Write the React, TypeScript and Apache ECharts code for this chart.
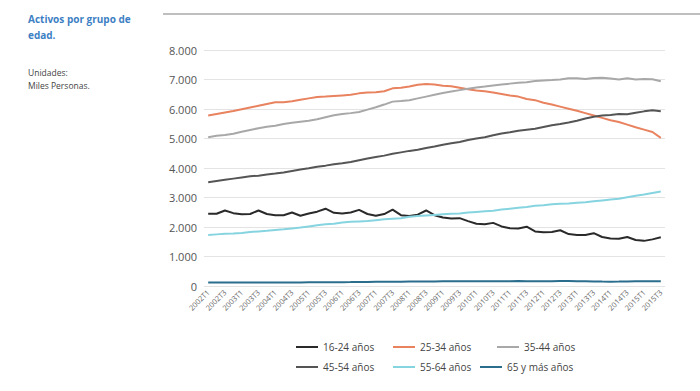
import React, { useEffect, useRef } from "react";
import * as echarts from "echarts";

const categories = [
  "2002T1","2002T2","2002T3","2002T4","2003T1","2003T2","2003T3","2003T4",
  "2004T1","2004T2","2004T3","2004T4","2005T1","2005T2","2005T3","2005T4",
  "2006T1","2006T2","2006T3","2006T4","2007T1","2007T2","2007T3","2007T4",
  "2008T1","2008T2","2008T3","2008T4","2009T1","2009T2","2009T3","2009T4",
  "2010T1","2010T2","2010T3","2010T4","2011T1","2011T2","2011T3","2011T4",
  "2012T1","2012T2","2012T3","2012T4","2013T1","2013T2","2013T3","2013T4",
  "2014T1","2014T2","2014T3","2014T4","2015T1","2015T2","2015T3",
];

const yTicks = [0, 1000, 2000, 3000, 4000, 5000, 6000, 7000, 8000];

const s16_24 = [
  2450, 2450, 2560, 2470, 2430, 2440, 2560, 2440, 2400, 2400, 2490, 2380, 2460, 2520,
  2620, 2480, 2460, 2490, 2580, 2440, 2380, 2440, 2590, 2400, 2370, 2420, 2560, 2400,
  2320, 2290, 2300, 2200, 2110, 2090, 2140, 2020, 1960, 1950, 2010, 1850, 1820, 1830,
  1890, 1760, 1730, 1730, 1790, 1660, 1610, 1600, 1660, 1560, 1530, 1580, 1650,
];
const s25_34 = [
  5780, 5830, 5880, 5930, 5990, 6050, 6110, 6170, 6230, 6230, 6260, 6310, 6360, 6410,
  6420, 6440, 6460, 6480, 6530, 6560, 6570, 6600, 6700, 6720, 6760, 6820, 6850, 6830,
  6790, 6770, 6720, 6670, 6630, 6600, 6560, 6510, 6460, 6420, 6340, 6300, 6210, 6150,
  6080, 6010, 5940, 5860, 5780, 5700, 5620, 5560, 5470, 5380, 5300, 5220, 5020,
];
const s35_44 = [
  5040, 5090, 5120, 5160, 5230, 5290, 5350, 5400, 5430, 5490, 5530, 5570, 5600, 5650,
  5720, 5790, 5830, 5860, 5900, 5980, 6060, 6150, 6250, 6270, 6300, 6360, 6420, 6480,
  6540, 6590, 6640, 6690, 6730, 6760, 6800, 6830, 6860, 6890, 6910, 6950, 6970, 6980,
  7000, 7040, 7040, 7020, 7050, 7060, 7030, 7000, 7040, 7000, 7020, 7010, 6940,
];
const s45_54 = [
  3520, 3560, 3600, 3640, 3680, 3720, 3740, 3780, 3810, 3850, 3900, 3950, 3990, 4040,
  4080, 4130, 4160, 4200, 4260, 4320, 4370, 4420, 4480, 4530, 4580, 4620, 4680, 4730,
  4790, 4840, 4880, 4950, 5000, 5040, 5110, 5170, 5210, 5260, 5300, 5330, 5390, 5450,
  5490, 5540, 5600, 5680, 5740, 5780, 5800, 5830, 5820, 5870, 5920, 5960, 5920,
];
const s55_64 = [
  1730, 1750, 1770, 1780, 1800, 1830, 1850, 1870, 1900, 1920, 1950, 1980, 2020, 2060,
  2090, 2110, 2150, 2180, 2190, 2200, 2230, 2260, 2280, 2300, 2350, 2370, 2390, 2410,
  2430, 2450, 2460, 2490, 2510, 2530, 2550, 2590, 2620, 2650, 2680, 2720, 2740, 2770,
  2790, 2800, 2820, 2840, 2870, 2900, 2930, 2960, 3010, 3060, 3100, 3150, 3200,
];
const s65 = [
  120, 118, 120, 115, 115, 118, 120, 118, 115, 118, 120, 122, 125, 125,
  128, 130, 130, 132, 135, 138, 140, 142, 145, 148, 150, 150, 152, 155,
  158, 160, 165, 162, 160, 158, 160, 162, 165, 168, 165, 162, 160, 165,
  170, 168, 160, 158, 155, 150, 148, 150, 155, 158, 160, 162, 165,
];

const seriesNames = ["16-24 años", "25-34 años", "35-44 años", "45-54 años", "55-64 años", "65 y más años"];
const seriesData = [s16_24, s25_34, s35_44, s45_54, s55_64, s65];
const seriesColors = ["#2a2a2a", "#e8825f", "#a8a8a8", "#555555", "#86d4e0", "#2b6d8c"];
const legendPos = [
  [296, 342], [393, 342], [497, 342],
  [296, 362], [393, 362], [480, 362],
];

const FONT = "'Open Sans', 'Noto Sans', sans-serif";

function fmt(v: number) {
  return String(v).replace(/\B(?=(\d{3})+(?!\d))/g, ".");
}

export default function App() {
  const ref = useRef<HTMLDivElement>(null);
  useEffect(() => {
    document.body.style.margin = "0";
    const chart = echarts.init(ref.current!, null, { renderer: "svg" });
    chart.setOption({
      animation: false,
      backgroundColor: "#ffffff",
      textStyle: { fontFamily: FONT },
      grid: { left: 204, right: 35, top: 50, bottom: 105, containLabel: false },
      xAxis: {
        type: "category",
        data: categories,
        boundaryGap: true,
        axisLine: { show: false },
        axisTick: { show: false },
        axisLabel: {
          interval: 1,
          rotate: 45,
          fontSize: 7.5,
          color: "#666",
          margin: 5,
          fontFamily: FONT,
        },
      },
      yAxis: {
        type: "value",
        min: yTicks[0],
        max: yTicks[yTicks.length - 1],
        interval: 1000,
        axisLine: { show: false },
        axisTick: { show: false },
        splitLine: { lineStyle: { color: "#e3e3e3", width: 1 } },
        axisLabel: {
          fontSize: 11,
          color: "#555",
          margin: 7,
          fontFamily: FONT,
          formatter: (v: number) => fmt(v),
        },
      },
      legend: seriesNames.map((n, i) => ({
        data: [n],
        left: legendPos[i][0],
        top: legendPos[i][1],
        icon: "rect",
        itemWidth: 22,
        itemHeight: 2,
        padding: 0,
        textStyle: { fontSize: 10, color: "#444", fontFamily: FONT },
      })),
      series: seriesNames.map((n, i) => ({
        name: n,
        type: "line",
        data: seriesData[i],
        showSymbol: false,
        symbol: "none",
        lineStyle: { color: seriesColors[i], width: 2 },
        itemStyle: { color: seriesColors[i] },
      })),
      graphic: [
        {
          type: "line",
          shape: { x1: 163, y1: 14, x2: 700, y2: 14 },
          style: { stroke: "#aaaaaa", lineWidth: 1.5 },
        },
        {
          type: "text",
          left: 28,
          top: 11,
          style: {
            text: "Activos por grupo de\nedad.",
            fill: "#3d7fc4",
            font: `bold 10px ${FONT}`,
            lineHeight: 16,
          },
        },
        {
          type: "text",
          left: 28,
          top: 66,
          style: {
            text: "Unidades:\nMiles Personas.",
            fill: "#444",
            font: `8.5px ${FONT}`,
            lineHeight: 13,
          },
        },
      ],
    });
    return () => chart.dispose();
  }, []);
  return <div ref={ref} style={{ width: 700, height: 391 }} />;
}
